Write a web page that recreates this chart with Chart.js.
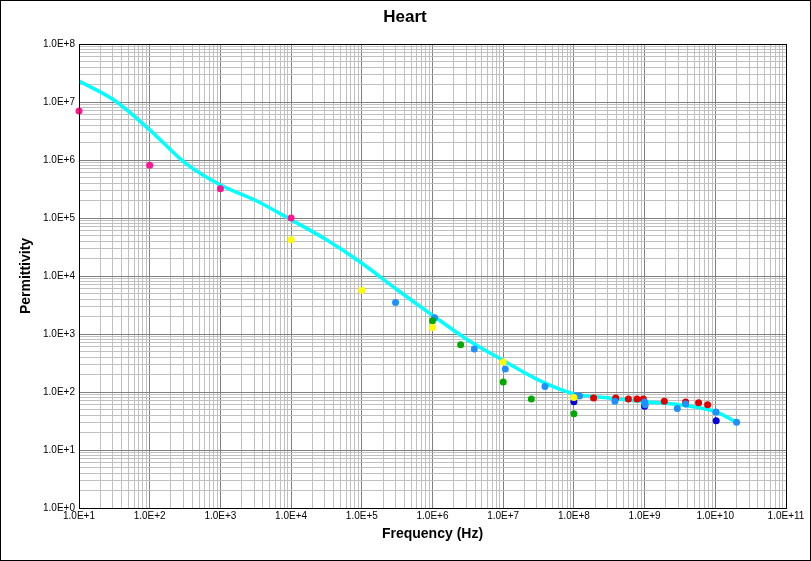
<!DOCTYPE html>
<html><head><script src="https://cdn.jsdelivr.net/npm/chart.js@4"></script>
<style>body{margin:0;background:#fff}#w{width:811px;height:561px;position:relative}</style></head>
<body><div id="w"><canvas id="c" width="811" height="561"></canvas></div>
<script>
const curveX=[1e1,3.16e1,1e2,3.16e2,1e3,3.16e3,1e4,3.16e4,1e5,3.16e5,1e6,3.16e6,1e7,3.16e7,1e8,3.16e8,1e9,3.16e9,1e10,2e10];
const curveY=[2.3e7,1.07e7,3.3e6,8.9e5,3.7e5,2.0e5,9.3e4,4.2e4,1.66e4,5.8e3,2.1e3,7.9e2,3.5e2,1.6e2,93,79,68,60,46,30];
const magX=[1e1,1e2,1e3,1e4], magY=[7e6,8.1e5,3.2e5,1e5];
const yelX=[1e4,1e5,1e6,1e7,1e8], yelY=[4.2e4,5.7e3,1.3e3,3.3e2,80];
const ltbX=[3e5,1.07e6,3.9e6,1.07e7,3.9e7,1.07e8,1.2e8,3.8e8,1e9,1.02e9,2.9e9,3.8e9,1.02e10,2e10];
const ltbY=[3.5e3,1.9e3,550,250,125,85,85,69,67,60,52,62,45,30];
const redX=[1.9e8,3.9e8,5.9e8,7.8e8,9.6e8,1.9e9,3.8e9,5.8e9,7.8e9];
const redY=[79,79,76,76,76,69,67,65,60];
const dbX=[1e8,1e9,1.03e10], dbY=[68,57,32];
const grnX=[1e6,2.5e6,1e7,2.5e7,1e8], grnY=[1.7e3,650,148,76,42];
const pts=(xs,ys)=>xs.map((x,i)=>({x,y:ys[i]}));
function logTicks(a,b){const t=[];for(let e=a;e<b;e++)for(let m=1;m<10;m++)t.push({value:m*Math.pow(10,e)});t.push({value:Math.pow(10,b)});return t;}
const fmt=v=>{const e=Math.round(Math.log10(v));return Math.abs(v-Math.pow(10,e))/v<1e-6?'1.0E'+(e>=0?'+':'-')+Math.abs(e):'';};
const gridCol=c=>{const v=c.tick&&c.tick.value;if(!v)return '#c0c0c0';return fmt(v)?'#808080':'#c0c0c0';};
const sc=(c,lbl)=>({borderColor:c,backgroundColor:c,data:lbl,showLine:false,pointRadius:3.5,pointHoverRadius:3.5,borderWidth:0,clip:false});
const deco={id:'deco',afterDraw(ch){const x=ch.ctx;x.save();x.strokeStyle='#000';x.lineWidth=1;x.strokeRect(0.5,0.5,810,560);
const a=ch.chartArea;x.strokeRect(a.left+0.5,a.top+0.5,a.right-a.left,a.bottom-a.top);
x.fillStyle='#000';x.font='bold 17px Arial, Liberation Sans';x.textAlign='center';x.fillText('Heart',405,22);x.restore();}};
new Chart(document.getElementById('c'),{type:'scatter',data:{datasets:[
sc('#ff1493',pts(magX,magY)),sc('#ffff00',pts(yelX,yelY)),sc('#00aa00',pts(grnX,grnY)),sc('#1e90ff',pts(ltbX,ltbY)),sc('#e00000',pts(redX,redY)),sc('#0000dd',pts(dbX,dbY)),
{data:pts(curveX,curveY),showLine:true,borderColor:'#00ffff',borderWidth:3.5,pointRadius:0,tension:0.4,cubicInterpolationMode:'monotone'}
]},options:{responsive:false,animation:false,events:[],layout:{padding:{top:44,right:25,left:14,bottom:14}},
plugins:{legend:{display:false},tooltip:{enabled:false},title:{display:false}},
scales:{x:{type:'logarithmic',min:10,max:1e11,afterBuildTicks:s=>{s.ticks=logTicks(1,11);},afterFit:s=>{s.height=39;},
ticks:{autoSkip:false,maxRotation:0,callback:v=>fmt(v),color:'#000',font:{family:'Arial, Liberation Sans',size:10},padding:2},
grid:{color:gridCol,drawTicks:false},border:{display:false},
title:{display:true,text:'Frequency (Hz)',color:'#000',font:{family:'Arial, Liberation Sans',size:14,weight:'bold'},padding:{top:4}}},
y:{type:'logarithmic',min:1,max:1e8,afterBuildTicks:s=>{s.ticks=logTicks(0,8);},afterFit:s=>{s.width=65;},
ticks:{autoSkip:false,callback:v=>fmt(v),color:'#000',font:{family:'Arial, Liberation Sans',size:10},padding:4},
grid:{color:gridCol,drawTicks:false},border:{display:false},
title:{display:true,text:'Permittivity',color:'#000',font:{family:'Arial, Liberation Sans',size:14,weight:'bold'},padding:{bottom:2}}}}},plugins:[deco]});
</script></body></html>
